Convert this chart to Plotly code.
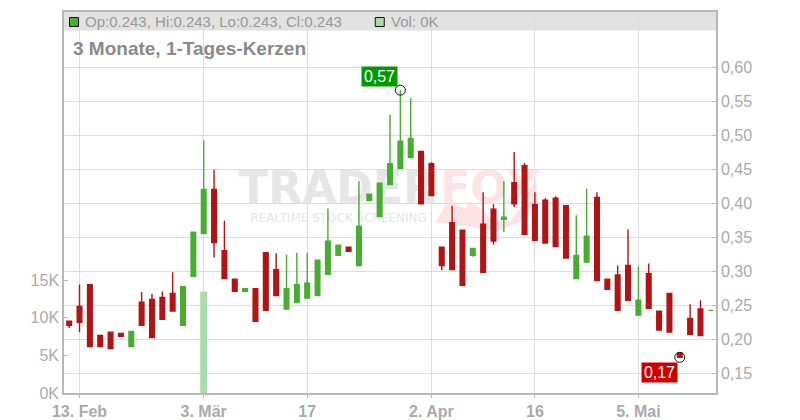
import plotly.graph_objects as go

# 1. Werte
opens = [.227,.249,.281,.206,.211,.209,.190,.255,.259,.262,.268,.221,.293,.356,.421,.331,.289,.271,.275,.328,.303,
         .245,.255,.261,.265,.296,.324,.336,.309,.405,.381,.428,.452,.468,.477,.459,.336,.372,.361,.324,.370,.392,
         .377,.431,.456,.399,.405,.408,.397,.290,.314,.409,.289,.295,.309,.236,.297,.242,.268,.180,.231,.245,.243]
highs = [.227,.281,.281,.206,.211,.209,.212,.270,.267,.271,.299,.278,.358,.493,.450,.375,.289,.275,.275,.328,.327,
         .325,.328,.328,.317,.393,.339,.336,.433,.414,.430,.531,.567,.555,.477,.461,.336,.397,.362,.334,.417,.399,
         .433,.476,.460,.417,.408,.411,.397,.383,.422,.417,.289,.309,.362,.308,.312,.242,.268,.180,.252,.258,.243]
lows = [.217,.211,.190,.190,.187,.205,.190,.221,.203,.230,.242,.221,.293,.356,.321,.290,.271,.271,.227,.243,.265,
        .245,.255,.261,.265,.296,.324,.330,.309,.405,.381,.428,.452,.468,.400,.412,.302,.303,.280,.322,.299,.340,
        .358,.395,.355,.346,.342,.337,.320,.290,.314,.287,.274,.243,.258,.236,.246,.214,.211,.174,.208,.206,.243]
closes = [.221,.2255,.190,.190,.187,.205,.212,.221,.203,.230,.242,.278,.358,.421,.343,.290,.271,.275,.227,.243,.265,
          .275,.281,.283,.317,.345,.339,.330,.367,.414,.430,.459,.492,.496,.400,.412,.309,.303,.280,.334,.299,.345,
          .380,.400,.355,.346,.342,.337,.320,.324,.352,.287,.274,.243,.258,.258,.246,.214,.211,.174,.208,.206,.243]
volumes = [0]*13 + [13500] + [0]*49
days = list(range(len(opens)))

tick_days = [1, 13, 23, 35, 45, 55]
tick_labels = ["13. Feb", "3. Mär", "17", "2. Apr", "16", "5. Mai"]
price_ticks = [.15, .20, .25, .30, .35, .40, .45, .50, .55, .60]
price_labels = ["0,15", "0,20", "0,25", "0,30", "0,35", "0,40", "0,45", "0,50", "0,55", "0,60"]
vol_ticks = [0, 5000, 10000, 15000]
vol_labels = ["0K", "5K", "10K", "15K"]
high_day, high_price, high_label = 32, .567, "0,57"
low_day, low_price, low_label = 59, .174, "0,17"

GREEN = "#48ad31"
RED = "#b01414"
GRID = "#dcdcdc"
AXIS = "#b8b8b8"
FONT = "Liberation Sans"

# Bildpixel -> Papierkoordinaten (fuer Kopfzeile und Wasserzeichen)
L, R, T, B = 63.5, 716, 11.5, 392.7
def px(x):
    return (x - L) / (R - L)
def py(y):
    return (B - y) / (B - T)
def day_at(x):
    return px(x) * 63 - 0.5
def vol_at(y):
    return py(y) * 50700

# 2. Wasserzeichen als Text-Trace, damit die Kerzen darueber liegen
fig = go.Figure()
def watermark(x, y, text, size, color):
    fig.add_trace(go.Scatter(x=[day_at(x)], y=[vol_at(y)], mode="text", text=[text], textposition="middle right",
                             textfont=dict(family="DejaVu Sans", size=size, color=color), yaxis="y", hoverinfo="skip"))
watermark(238, 192, "<b>TRADER</b>", 44, "#e6e6e6")
watermark(440, 192, "<b>FOX</b>", 44, "#fde3e5")
watermark(250, 219, "REALTIME STOCK SCREENING", 12, "#e6e6e6")

# 3. Volumen und Kerzen
fig.add_trace(go.Bar(x=days, y=volumes, width=0.68, marker=dict(color="#a9dca9", line=dict(width=0)), yaxis="y"))
fig.add_trace(go.Candlestick(x=days, open=opens, high=highs, low=lows, close=closes, yaxis="y2", whiskerwidth=0,
                             increasing=dict(line=dict(color=GREEN, width=1.4), fillcolor=GREEN),
                             decreasing=dict(line=dict(color=RED, width=1.4), fillcolor=RED)))
fig.add_trace(go.Scatter(x=[high_day, low_day], y=[high_price, low_price], mode="markers", yaxis="y2",
                         marker=dict(symbol="circle-open", size=10, color="#111111", line=dict(width=1))))

# 4. Kopfzeile
shapes = [
    dict(type="rect", xref="paper", yref="paper", x0=0, x1=1, y0=py(30), y1=1, fillcolor="#e2e2e2", line_width=0, layer="below"),
    dict(type="rect", xref="paper", yref="paper", x0=px(69), x1=px(78), y0=py(26), y1=py(17), fillcolor=GREEN,
         line=dict(color="#111111", width=1)),
    dict(type="rect", xref="paper", yref="paper", x0=px(375), x1=px(384), y0=py(26), y1=py(17), fillcolor="#a9dca9",
         line=dict(color="#111111", width=1)),
]
# Fuchsschwanz vom Logo
tail = [(435, 222), (445, 205), (456, 203), (464, 209), (470, 201), (481, 208), (490, 218), (510, 222), (525, 200),
        (536, 177), (538, 200), (520, 221), (495, 232), (470, 226)]
path = "M " + " L ".join(f"{px(a):.4f},{py(b):.4f}" for a, b in tail) + " Z"
shapes.append(dict(type="path", xref="paper", yref="paper", path=path, fillcolor="#fde3e5", line_width=0, layer="below"))

def note(x, y, text, size, color, bold=False, family=FONT):
    return dict(xref="paper", yref="paper", x=px(x), y=py(y), text=f"<b>{text}</b>" if bold else text, showarrow=False,
                xanchor="left", yanchor="middle", font=dict(family=family, size=size, color=color),
                borderpad=0)

annotations = [
    note(84, 21.5, "Op:0.243, Hi:0.243, Lo:0.243, Cl:0.243", 15, "#999999"),
    note(390, 21.5, "Vol: 0K", 15, "#999999"),
    note(72, 48, "3 Monate, 1-Tages-Kerzen", 19, "#8a8a8a", bold=True),
    dict(x=high_day, y=high_price, xref="x", yref="y2", text=high_label, showarrow=False, xanchor="right", yanchor="bottom",
         xshift=-2, yshift=3, width=33, height=17, bgcolor="#009900", font=dict(family=FONT, size=16, color="white")),
    dict(x=low_day, y=low_price, xref="x", yref="y2", text=low_label, showarrow=False, xanchor="right", yanchor="top",
         xshift=-2, yshift=-5, width=33, height=17, bgcolor="#cc0000", font=dict(family=FONT, size=16, color="white")),
]

bold_labels = [f"<b>{t}</b>" for t in tick_labels]

fig.update_layout(
    width=800, height=420, margin=dict(l=L, r=800 - R, t=T, b=420 - B, autoexpand=False),
    paper_bgcolor="white", plot_bgcolor="white", showlegend=False, boxgap=0.36,
    shapes=shapes, annotations=annotations,
    xaxis=dict(range=[-0.5, 62.5], tickmode="array", tickvals=tick_days, ticktext=bold_labels, rangeslider=dict(visible=False),
               showgrid=True, gridcolor=GRID, gridwidth=1, zeroline=False, showline=True, linecolor=AXIS, linewidth=1.5,
               mirror=True, ticks="outside", ticklen=3, tickcolor=AXIS, tickfont=dict(family=FONT, size=16, color="#aaaaaa")),
    yaxis=dict(range=[0, 50700], tickmode="array", tickvals=vol_ticks, ticktext=vol_labels, side="left", showgrid=False, zeroline=False,
               showline=True, linecolor=AXIS, linewidth=1.5, ticks="inside", ticklen=4, tickcolor=AXIS,
               tickfont=dict(family=FONT, size=16, color="#aaaaaa")),
    yaxis2=dict(range=[0.1215, 0.682], tickmode="array", tickvals=price_ticks, ticktext=price_labels, side="right", overlaying="y",
                showgrid=True, gridcolor=GRID, gridwidth=1, zeroline=False, showline=True, linecolor=AXIS, linewidth=1.5,
                ticks="inside", ticklen=4, tickcolor=AXIS, tickfont=dict(family=FONT, size=16, color="#aaaaaa")),
)

# Seitenrand weg, sonst rutscht alles um 8 Pixel
fig.write_html("out.html", config=dict(displayModeBar=False), post_script="document.body.style.margin='0';")
